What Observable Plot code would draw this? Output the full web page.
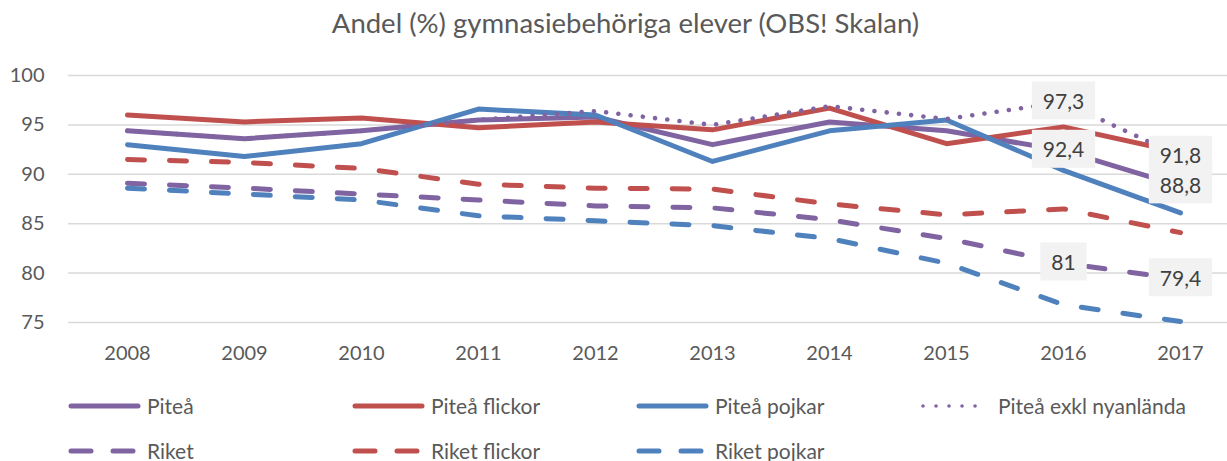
<!DOCTYPE html>
<html>
<head>
<meta charset="utf-8">
<script src="https://cdn.jsdelivr.net/npm/d3@7"></script>
<script src="https://cdn.jsdelivr.net/npm/@observablehq/plot@0.6"></script>
<style>
  html, body { margin: 0; padding: 0; background: #fff; }
  body { width: 1227px; height: 461px; position: relative; overflow: hidden; font-family: Lato, "Noto Sans", sans-serif; color: #595959; }
  #title { position: absolute; top: 9px; left: 0; width: 1251px; text-align: center; font-size: 27.5px; line-height: 27.5px; white-space: nowrap; }
  #chart { position: absolute; top: 55px; left: 0; }
  .leg { position: absolute; height: 24px; line-height: 24px; font-size: 21px; white-space: nowrap; display: flex; align-items: center; }
  .leg svg { display: block; margin-right: 4px; }
</style>
</head>
<body>
<div id="title">Andel (%) gymnasiebehöriga elever (OBS! Skalan)</div>
<div id="chart"></div>
<div id="legend"></div>
<script>
// ---- data ----
const years = [2008, 2009, 2010, 2011, 2012, 2013, 2014, 2015, 2016, 2017];
const seriesNames = ["Piteå", "Piteå flickor", "Piteå pojkar", "Piteå exkl nyanlända", "Riket", "Riket flickor", "Riket pojkar"];
const pitea        = [94.4, 93.6, 94.4, 95.5, 95.8, 93.0, 95.3, 94.4, 92.4, 88.8];
const piteaFlickor = [96.0, 95.3, 95.7, 94.7, 95.3, 94.5, 96.7, 93.1, 94.8, 92.2];
const piteaPojkar  = [93.0, 91.8, 93.1, 96.6, 96.0, 91.3, 94.4, 95.5, 90.4, 86.1];
const piteaExkl    = [94.4, 93.6, 94.4, 95.5, 96.4, 95.0, 96.9, 95.6, 97.3, 91.8];
const riket        = [89.1, 88.6, 88.0, 87.4, 86.8, 86.6, 85.4, 83.5, 81.0, 79.4];
const riketFlickor = [91.5, 91.2, 90.6, 89.0, 88.6, 88.5, 87.0, 85.9, 86.5, 84.1];
const riketPojkar  = [88.6, 88.0, 87.4, 85.8, 85.3, 84.8, 83.5, 81.0, 76.8, 75.1];
const yTicks = [75, 80, 85, 90, 95, 100];
// data labels
const labelSeries = ["Piteå exkl nyanlända", "Piteå", "Piteå exkl nyanlända", "Piteå", "Riket", "Riket"];
const labelYears  = [2016, 2016, 2017, 2017, 2016, 2017];
const labelTexts  = ["97,3", "92,4", "91,8", "88,8", "81", "79,4"];

// ---- styles ----
const purple = "#8064A2", red = "#C0504D", blue = "#4F81BD";
const styles = {
  "Piteå": {stroke: purple, dash: null},
  "Piteå flickor": {stroke: red, dash: null},
  "Piteå pojkar": {stroke: blue, dash: null},
  "Piteå exkl nyanlända": {stroke: purple, dash: "dot"},
  "Riket": {stroke: purple, dash: "dash"},
  "Riket flickor": {stroke: red, dash: "dash"},
  "Riket pojkar": {stroke: blue, dash: "dash"}
};
const valuesBySeries = {
  "Piteå": pitea, "Piteå flickor": piteaFlickor, "Piteå pojkar": piteaPojkar,
  "Piteå exkl nyanlända": piteaExkl, "Riket": riket, "Riket flickor": riketFlickor, "Riket pojkar": riketPojkar
};
const rows = (name) => years.map((yr, i) => ({series: name, year: yr, value: valuesBySeries[name][i]}));
const labelRows = labelTexts.map((t, i) => ({
  year: labelYears[i],
  value: valuesBySeries[labelSeries[i]][years.indexOf(labelYears[i])],
  text: t
}));

function lineMark(name) {
  const s = styles[name];
  const opts = {x: "year", y: "value", stroke: s.stroke, strokeWidth: 5, strokeLinecap: "round", strokeLinejoin: "round", curve: "linear"};
  if (s.dash === "dash") { opts.strokeDasharray = "17,25"; }
  if (s.dash === "dot") { opts.strokeDasharray = "0.01,12.3"; opts.strokeWidth = 4.6; }
  return Plot.line(rows(name), opts);
}

const chart = Plot.plot({
  width: 1227,
  height: 315,
  marginLeft: 68,
  marginRight: 0,
  marginTop: 20,
  marginBottom: 48,
  style: {fontFamily: "Lato, 'Noto Sans', sans-serif", color: "#595959", background: "transparent"},
  x: {type: "point", domain: years, range: [126, 1180], padding: 0},
  y: {domain: [75, 100]},
  marks: [
    Plot.ruleY(yTicks, {stroke: "#D9D9D9", strokeWidth: 1.5}),
    Plot.axisY(yTicks, {tickSize: 0, tickPadding: 24, fontSize: 20, fill: "#595959", label: null}),
    Plot.axisX(years, {tickSize: 0, tickPadding: 23, fontSize: 20, fill: "#595959", label: null, tickFormat: d => String(d)}),
    ...seriesNames.map(lineMark),
    Plot.text(labelRows, {x: "year", y: "value", text: "text", fontSize: 21, fill: "#404040", textAnchor: "middle"})
  ]
});
document.getElementById("chart").appendChild(chart);

// label backgrounds (behind each data label)
chart.querySelectorAll('g[aria-label="text"] text').forEach(t => {
  if (!labelTexts.includes(t.textContent)) return;
  const b = t.getBBox();
  const r = document.createElementNS("http://www.w3.org/2000/svg", "rect");
  const padX = 11, h = 38;
  r.setAttribute("x", b.x - padX);
  r.setAttribute("width", b.width + 2 * padX);
  r.setAttribute("y", b.y + b.height / 2 - h / 2);
  r.setAttribute("height", h);
  r.setAttribute("fill", "#F2F2F2");
  const tr = t.getAttribute("transform");
  if (tr) r.setAttribute("transform", tr);
  t.parentNode.insertBefore(r, t);
});

// legend
const legendPos = [
  {x: 66, y: 406}, {x: 350, y: 406}, {x: 634, y: 406}, {x: 917, y: 406},
  {x: 66, y: 451}, {x: 350, y: 451}, {x: 634, y: 451}
];
const legend = document.getElementById("legend");
seriesNames.forEach((name, i) => {
  const s = styles[name];
  const p = legendPos[i];
  const div = document.createElement("div");
  div.className = "leg";
  div.style.left = p.x + "px";
  div.style.top = (p.y - 12) + "px";
  let w = 77, x1 = 5, x2 = 72, dash = "", sw = 5;
  if (s.dash === "dash") dash = 'stroke-dasharray="20,22"';
  if (s.dash === "dot") { w = 77; x1 = 6; x2 = 71; dash = 'stroke-dasharray="0.01,13"'; sw = 3.6; }
  div.innerHTML = `<svg width="${w}" height="10"><line x1="${x1}" x2="${x2}" y1="5" y2="5" stroke="${s.stroke}" stroke-width="${sw}" stroke-linecap="round" ${dash}/></svg><span>${name}</span>`;
  legend.appendChild(div);
});
</script>
</body>
</html>
